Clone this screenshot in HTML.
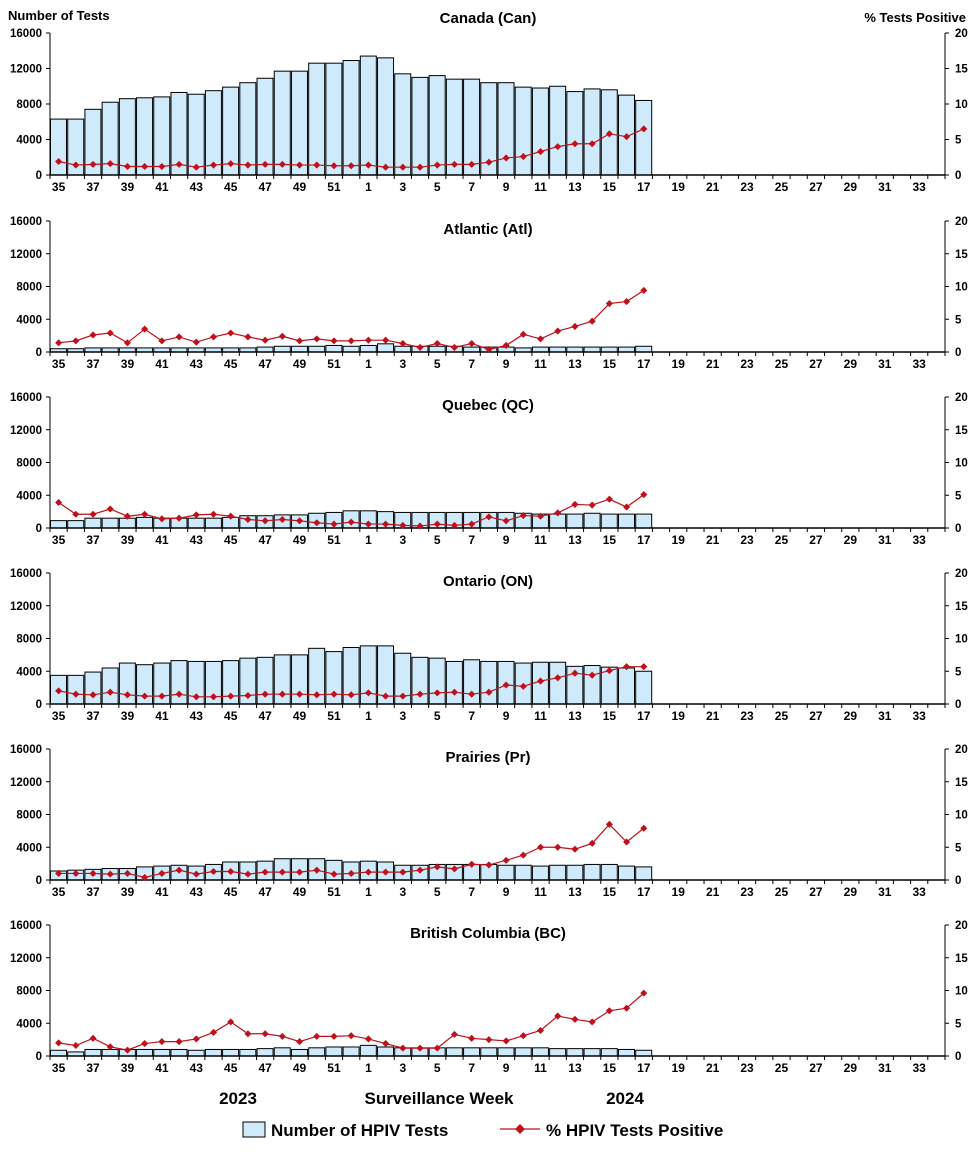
<!DOCTYPE html>
<html><head><meta charset="utf-8">
<style>
html,body{margin:0;padding:0;background:#fff;}
svg{display:block;font-family:"Liberation Sans",Arial,sans-serif;}
</style></head>
<body>
<svg id="chart" width="976" height="1152" viewBox="0 0 976 1152" xmlns="http://www.w3.org/2000/svg">
<text x="8" y="20" font-size="13" font-weight="bold">Number of Tests</text>
<text x="966" y="22" font-size="13" font-weight="bold" text-anchor="end">% Tests Positive</text>
<text x="238" y="1104" font-size="17" font-weight="bold" text-anchor="middle">2023</text>
<text x="439" y="1104" font-size="17" font-weight="bold" text-anchor="middle">Surveillance Week</text>
<text x="625" y="1104" font-size="17" font-weight="bold" text-anchor="middle">2024</text>
<g>
<rect x="243" y="1122" width="22" height="15" fill="#cfeafb" stroke="#000" stroke-width="1"/>
<text x="271" y="1136" font-size="17" font-weight="bold">Number of HPIV Tests</text>
<line x1="500" y1="1129" x2="540" y2="1129" stroke="#c0101a" stroke-width="1.3"/>
<rect x="516.5" y="1125.5" width="7" height="7" fill="#c0101a" transform="rotate(45 520 1129)"/>
<text x="546" y="1136" font-size="17" font-weight="bold">% HPIV Tests Positive</text>
</g>
</svg>
<script>
const weeks = [35,36,37,38,39,40,41,42,43,44,45,46,47,48,49,50,51,52,1,2,3,4,5,6,7,8,9,10,11,12,13,14,15,16,17,18,19,20,21,22,23,24,25,26,27,28,29,30,31,32,33,34];
const regionNames = ["Canada (Can)","Atlantic (Atl)","Quebec (QC)","Ontario (ON)","Prairies (Pr)","British Columbia (BC)"];
const yTicks = [0,4000,8000,12000,16000];
const y2Ticks = [0,5,10,15,20];
const testsCan = [6300,6300,7400,8200,8600,8700,8800,9300,9100,9500,9900,10400,10900,11700,11700,12600,12600,12900,13400,13200,11400,11000,11200,10800,10800,10400,10400,9900,9800,10000,9400,9700,9600,9000,8400];
const posCan = [1.9,1.4,1.5,1.6,1.2,1.2,1.2,1.5,1.1,1.4,1.6,1.4,1.5,1.5,1.4,1.4,1.3,1.3,1.4,1.1,1.1,1.1,1.4,1.5,1.5,1.8,2.4,2.6,3.3,4.0,4.4,4.4,5.8,5.4,6.5];
const testsAtl = [400,400,500,500,500,500,500,500,500,500,500,500,600,700,700,700,800,700,800,1000,700,700,700,700,600,600,600,500,600,600,600,600,600,600,700];
const posAtl = [1.4,1.7,2.6,2.9,1.4,3.5,1.7,2.3,1.5,2.3,2.9,2.3,1.8,2.4,1.7,2.0,1.7,1.7,1.8,1.8,1.3,0.7,1.3,0.7,1.3,0.4,1.0,2.7,2.0,3.2,3.9,4.7,7.4,7.7,9.4];
const testsQC = [900,900,1200,1200,1200,1300,1200,1200,1200,1200,1300,1500,1500,1600,1600,1800,1900,2100,2100,2000,1900,1900,1900,1900,1900,1900,1900,1800,1700,1700,1700,1800,1700,1700,1700];
const posQC = [3.9,2.1,2.1,2.9,1.8,2.1,1.4,1.5,2.0,2.1,1.8,1.3,1.1,1.3,1.1,0.8,0.6,0.9,0.6,0.6,0.4,0.3,0.6,0.4,0.6,1.7,1.1,1.9,1.8,2.3,3.6,3.5,4.4,3.2,5.1];
const testsON = [3500,3500,3900,4400,5000,4800,5000,5300,5200,5200,5300,5600,5700,6000,6000,6800,6400,6900,7100,7100,6200,5700,5600,5200,5400,5200,5200,5000,5100,5100,4600,4700,4500,4400,4000];
const posON = [2.0,1.5,1.4,1.8,1.4,1.2,1.2,1.5,1.1,1.1,1.2,1.3,1.5,1.5,1.5,1.4,1.5,1.4,1.7,1.2,1.2,1.5,1.7,1.8,1.5,1.8,2.9,2.7,3.5,4.0,4.7,4.4,5.1,5.7,5.7];
const testsPr = [1100,1200,1300,1400,1400,1600,1700,1800,1700,1900,2200,2200,2300,2600,2600,2600,2400,2200,2300,2200,1800,1800,1900,1900,1900,1900,1800,1800,1700,1800,1800,1900,1900,1700,1600];
const posPr = [1.0,1.0,1.0,0.9,1.0,0.4,1.0,1.5,0.9,1.3,1.3,0.9,1.2,1.2,1.2,1.5,0.9,1.0,1.2,1.2,1.2,1.5,2.0,1.7,2.4,2.3,3.0,3.8,5.0,5.0,4.7,5.6,8.5,5.8,7.9];
const testsBC = [700,500,800,800,800,800,800,800,700,800,800,800,900,1000,800,1000,1100,1100,1300,1100,1000,1000,1000,1000,1000,1000,1000,1000,1000,900,900,900,900,800,700];
const posBC = [2.0,1.6,2.7,1.4,0.9,1.9,2.2,2.2,2.6,3.6,5.2,3.4,3.4,3.0,2.2,3.0,3.0,3.1,2.6,1.9,1.2,1.2,1.2,3.3,2.7,2.5,2.3,3.1,3.9,6.1,5.6,5.2,6.9,7.3,9.6];
const allTests = [testsCan,testsAtl,testsQC,testsON,testsPr,testsBC];
const allPos = [posCan,posAtl,posQC,posON,posPr,posBC];
const panelTops = [33,221,397,573,749,925];
const panelBottoms = [175,352,528,704,880,1056];

const NS = "http://www.w3.org/2000/svg";
const svg = document.getElementById("chart");
const X0 = 50, X1 = 945;
const slot = (X1 - X0) / weeks.length;
function mk(tag, attrs, parent){
  const e = document.createElementNS(NS, tag);
  for (const k in attrs) e.setAttribute(k, attrs[k]);
  (parent||svg).appendChild(e);
  return e;
}
function xCenter(i){ return X0 + slot*(i+0.5); }

regionNames.forEach((name, p) => {
  const top = panelTops[p], bot = panelBottoms[p];
  const yS = v => bot - (v/16000)*(bot-top);
  const y2S = v => bot - (v/20)*(bot-top);
  const g = mk("g", {});
  
  

  const title = mk("text", {x:488, y: top + (p===0 ? -10 : 13), "font-size":15, "font-weight":"bold", "text-anchor":"middle"}, g);
  
  
  title.textContent = name;

  // bars
  allTests[p].forEach((v, i) => {
    const b = mk("rect", {x: X0 + slot*i + 0.5, y: yS(v), width: slot - 1.2, height: bot - yS(v), fill:"#cfeafb", stroke:"#000", "stroke-width":1}, g);
    
    
  });

  // axes
  const la = mk("line", {x1:X0, y1:top, x2:X0, y2:bot, stroke:"#000", "stroke-width":1}, g);
  
  
  const ra = mk("line", {x1:X1, y1:top, x2:X1, y2:bot, stroke:"#000", "stroke-width":1}, g);
  
  
  const xa = mk("line", {x1:X0, y1:bot, x2:X1, y2:bot, stroke:"#000", "stroke-width":1.5}, g);
  
  

  yTicks.forEach(t => {
    const y = yS(t);
    mk("line", {x1:X0-4, y1:y, x2:X0, y2:y, stroke:"#000"}, g);
    const tx = mk("text", {x:X0-8, y:y+4, "font-size":11.5, "font-weight":"bold", "text-anchor":"end"}, g);
    
    
    tx.textContent = t;
  });
  y2Ticks.forEach(t => {
    const y = y2S(t);
    mk("line", {x1:X1, y1:y, x2:X1+4, y2:y, stroke:"#000"}, g);
    const tx = mk("text", {x:X1+10, y:y+4, "font-size":11.5, "font-weight":"bold", "text-anchor":"start"}, g);
    
    
    tx.textContent = t;
  });
  for (let i = 0; i <= weeks.length; i++) {
    const x = X0 + slot*i;
    mk("line", {x1:x, y1:bot, x2:x, y2:bot+4, stroke:"#000"}, g);
  }
  weeks.forEach((w, i) => {
    if (i % 2 !== 0) return;
    const tx = mk("text", {x:xCenter(i), y:bot+16, "font-size":12, "font-weight":"bold", "text-anchor":"middle"}, g);
    
    
    tx.textContent = w;
  });

  // line
  const pts = allPos[p].map((v, i) => xCenter(i) + "," + y2S(v)).join(" ");
  const pl = mk("polyline", {points: pts, fill:"none", stroke:"#c0101a", "stroke-width":1.2}, g);
  
  
  allPos[p].forEach((v, i) => {
    const cx = xCenter(i), cy = y2S(v);
    const m = mk("rect", {x:cx-2.5, y:cy-2.5, width:5, height:5, fill:"#c0101a", transform:`rotate(45 ${cx} ${cy})`}, g);
    
    
  });
});
</script>
</body></html>
